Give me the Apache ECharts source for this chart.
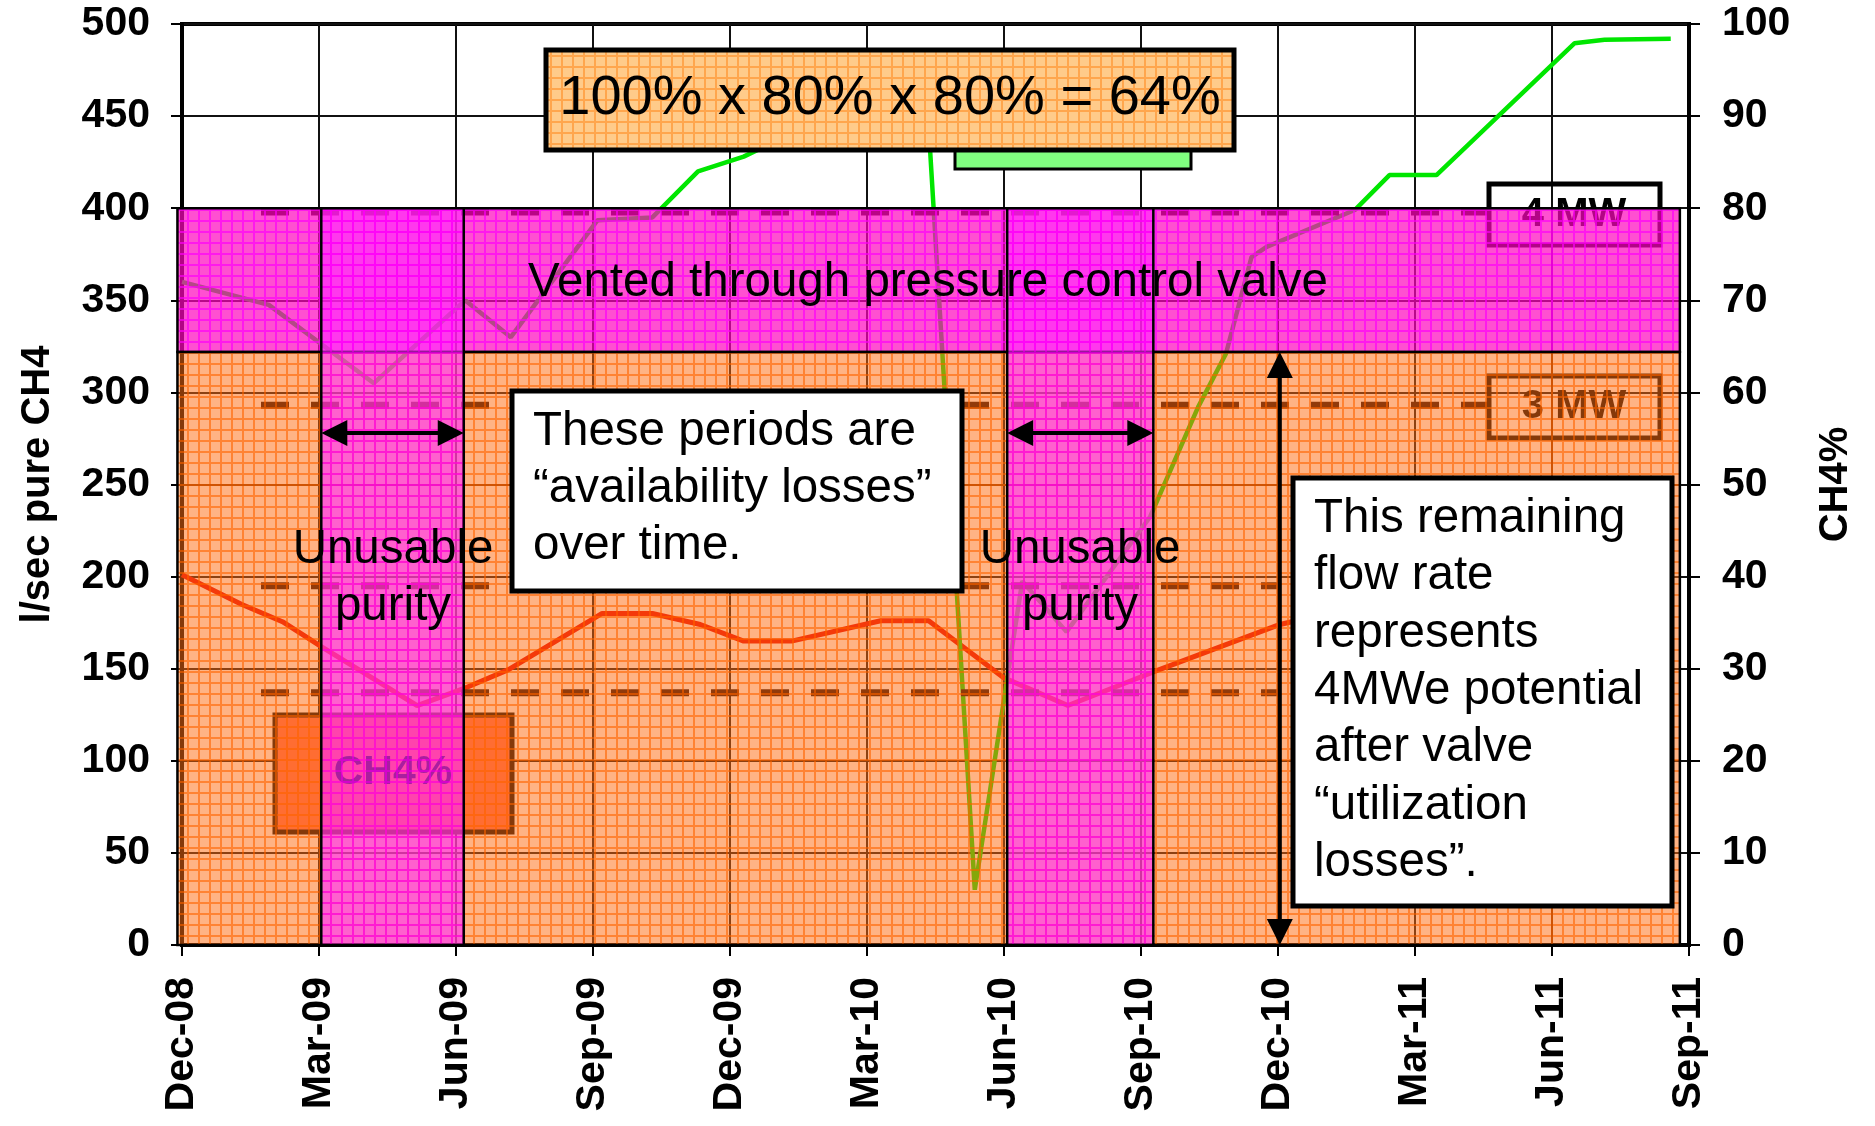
<!DOCTYPE html>
<html>
<head>
<meta charset="utf-8">
<title>CH4 flow and purity</title>
<script src="https://cdn.jsdelivr.net/npm/echarts@6/dist/echarts.min.js"></script>
<style>
    html, body { margin: 0; padding: 0; background: #fff; }
    #main { width: 1875px; height: 1126px; }
</style>
</head>
<body>
<div id="main"></div>
<script>
    // x is counted in months from Dec-08
    var xTickLabels = ['Dec-08', 'Mar-09', 'Jun-09', 'Sep-09', 'Dec-09', 'Mar-10', 'Jun-10', 'Sep-10', 'Dec-10', 'Mar-11', 'Jun-11', 'Sep-11'];

    // flow rate, l/sec pure CH4 (left axis)
    var flowMonth = [0, 1.3, 2.2, 3.05, 5.15, 6.15, 7.15, 9.2, 10.3, 11.35, 12.3, 13.35, 15.3, 16.35, 18.0, 19.4, 21.3, 24.0, 24.3];
    var flowValue = [201, 185, 175.5, 162, 130, 139, 149.5, 180, 180, 174, 165, 165, 176, 176, 145, 130, 148.5, 173.7, 175.5];

    // CH4 % (right axis)
    var ch4Month = [0, 1.9, 4.2, 6.2, 7.2, 9.1, 10.3, 11.3, 12.3, 13.3, 14.3, 15.3, 16.3, 17.36, 18.4, 19.37, 21.2, 22.25, 22.86, 23.42, 23.75, 25.68, 26.44, 27.47, 30.49, 31.15, 32.6];
    var ch4Value = [72, 69.5, 61, 70, 66, 78.7, 79, 84, 85.6, 88, 90, 92, 93, 6, 39.5, 34, 46.5, 58.4, 64.2, 74.7, 75.8, 79.8, 83.6, 83.6, 97.9, 98.3, 98.4];

    // generator levels (dashed), l/sec
    var mwLevel = [398, 293, 195, 137];
    var mwFrom = [1.73, 1.73, 1.73, 1.73];
    var mwTo = [28.6, 28.6, 24.0, 24.0];

    // shaded zones: vented, usable flow (layer 0); two unusable purity periods (layer 1)
    var bandX0 = [-0.1, -0.1, 3.05, 18.07];
    var bandX1 = [32.8, 32.8, 6.17, 21.27];
    var bandY0 = [322, 0, 0, 0];
    var bandY1 = [400, 322, 400, 400];
    var bandLayer = [0, 0, 1, 1];

    // double arrows (month, l/sec)
    var arrowX0 = [3.05, 18.07, 24.04];
    var arrowY0 = [278, 278, 322];
    var arrowX1 = [6.17, 21.27, 24.04];
    var arrowY1 = [278, 278, 0];

    var formulaText = '100% x 80% x 80% = 64%';
    var ventText = 'Vented through pressure control valve';
    var unusableText = ['Unusable', 'purity'];
    var noteA = ['These periods are', '\u201cavailability losses\u201d', 'over time.'];
    var noteB = ['This remaining', 'flow rate', 'represents', '4MWe potential', 'after valve', '\u201cutilization', 'losses\u201d.'];

    var FONT = '"Liberation Sans", Arial, sans-serif';

    var gridPattern = function (bg, line, cell, lw) {
        var c = document.createElement('canvas');
        c.width = cell;
        c.height = cell;
        var ctx = c.getContext('2d');
        ctx.fillStyle = bg;
        ctx.fillRect(lw, lw, cell - lw, cell - lw);
        ctx.fillStyle = line;
        ctx.fillRect(0, 0, cell, lw);
        ctx.fillRect(0, lw, lw, cell - lw);
        return {image: c, repeat: 'repeat'};
    };

    var bandFill = [
        gridPattern('rgba(255,5,190,0.7)', 'rgba(255,0,235,0.9)', 11, 2),
        gridPattern('rgba(255,110,20,0.52)', 'rgba(255,100,0,0.8)', 11, 2),
        gridPattern('rgba(255,40,255,0.6)', 'rgba(255,0,250,0.8)', 11, 2),
        gridPattern('rgba(255,40,255,0.6)', 'rgba(255,0,250,0.8)', 11, 2)
    ];
    var formulaFill = gridPattern('#ffcb8a', '#ffa64d', 11, 2);

    var pairs = function (xs, ys) {
        return xs.map(function (x, i) { return [x, ys[i]]; });
    };

    var renderBand = function (params, api) {
        var p0 = api.coord([api.value(0), api.value(3)]);
        var p1 = api.coord([api.value(1), api.value(2)]);
        var i = api.value(4);
        return {
            type: 'rect',
            z2: i,
            shape: {x: p0[0], y: p0[1], width: p1[0] - p0[0], height: p1[1] - p0[1]},
            style: {fill: bandFill[i], stroke: '#000', lineWidth: 2.5}
        };
    };

    var bandData = function (layer) {
        var d = [];
        for (var i = 0; i < bandX0.length; i++) {
            if (bandLayer[i] === layer) {
                d.push([bandX0[i], bandX1[i], bandY0[i], bandY1[i], i]);
            }
        }
        return d;
    };

    var renderArrow = function (params, api) {
        var a = api.coord([api.value(0), api.value(1)]);
        var b = api.coord([api.value(2), api.value(3)]);
        var dx = b[0] - a[0], dy = b[1] - a[1];
        var len = Math.sqrt(dx * dx + dy * dy);
        var ux = dx / len, uy = dy / len;
        var hl = 26, hw = 13;
        var head = function (tip, dir) {
            var bx = tip[0] - dir * ux * hl, by = tip[1] - dir * uy * hl;
            return {
                type: 'polygon',
                shape: {points: [tip, [bx - uy * hw, by + ux * hw], [bx + uy * hw, by - ux * hw]]},
                style: {fill: '#000'}
            };
        };
        return {
            type: 'group',
            children: [
                {
                    type: 'line',
                    shape: {x1: a[0] + ux * 10, y1: a[1] + uy * 10, x2: b[0] - ux * 10, y2: b[1] - uy * 10},
                    style: {stroke: '#000', lineWidth: 4}
                },
                head(b, 1),
                head(a, -1)
            ]
        };
    };

    var series = [
        {
            name: 'flow',
            type: 'line',
            z: 2,
            symbol: 'none',
            data: pairs(flowMonth, flowValue),
            lineStyle: {color: '#e80000', width: 5}
        },
        {
            name: 'CH4%',
            type: 'line',
            z: 2,
            yAxisIndex: 1,
            symbol: 'none',
            data: pairs(ch4Month, ch4Value),
            lineStyle: {color: '#00e600', width: 4.5}
        }
    ];

    for (var k = 0; k < mwLevel.length; k++) {
        series.push({
            type: 'line',
            z: 2,
            symbol: 'none',
            silent: true,
            data: [[mwFrom[k], mwLevel[k]], [mwTo[k], mwLevel[k]]],
            lineStyle: {color: '#1a0400', width: 7, type: [28, 22]}
        });
    }

    // shading layers, drawn over the lines
    [0, 1].forEach(function (layer) {
        series.push({
            type: 'custom',
            z: 5 + layer * 2,
            silent: true,
            clip: false,
            renderItem: renderBand,
            encode: {x: [0, 1], y: [2, 3]},
            data: bandData(layer)
        });
    });

    series.push({
        type: 'custom',
        z: 12,
        silent: true,
        clip: false,
        renderItem: renderArrow,
        encode: {x: [0, 2], y: [1, 3]},
        data: arrowX0.map(function (x0, i) { return [x0, arrowY0[i], arrowX1[i], arrowY1[i]]; })
    });

    var txt = function (x, y, text, size, opts) {
        opts = opts || {};
        return {
            type: 'text',
            z: opts.z || 15,
            x: x,
            y: y,
            style: {
                text: text,
                font: (opts.bold ? 'bold ' : '') + size + 'px ' + FONT,
                fill: opts.color || '#000',
                align: opts.align || 'center',
                verticalAlign: 'middle'
            }
        };
    };

    var graphics = [
        // boxes under the shading
        {type: 'rect', z: 3, shape: {x: 275, y: 715, width: 237, height: 117}, style: {fill: '#ff6d55', stroke: '#000', lineWidth: 5}},
        txt(393, 773, 'CH4%', 41, {bold: true, color: '#2a1010', z: 6}),
        {type: 'rect', z: 3, shape: {x: 1489, y: 184, width: 171, height: 61}, style: {fill: 'none', stroke: '#000', lineWidth: 5}},
        txt(1574, 215, '4 MW', 40, {bold: true, z: 3}),
        {type: 'rect', z: 3, shape: {x: 1489, y: 376, width: 171, height: 62}, style: {fill: 'none', stroke: '#000', lineWidth: 5}},
        txt(1574, 407, '3 MW', 40, {bold: true, z: 3}),

        // formula box
        {type: 'rect', z: 20, shape: {x: 955, y: 128, width: 236, height: 41}, style: {fill: '#80ff80', stroke: '#000', lineWidth: 3}},
        {type: 'rect', z: 21, shape: {x: 546, y: 50, width: 688, height: 100}, style: {fill: formulaFill, stroke: '#000', lineWidth: 5}},
        txt(890, 99, formulaText, 56, {z: 22}),

        txt(928, 283, ventText, 47.5),
        txt(393, 550, unusableText[0], 47.5),
        txt(393, 607, unusableText[1], 47.5),
        txt(1080, 550, unusableText[0], 47.5),
        txt(1080, 607, unusableText[1], 47.5),

        {type: 'rect', z: 15, shape: {x: 512, y: 391, width: 450, height: 200}, style: {fill: '#fff', stroke: '#000', lineWidth: 5}},
        {type: 'rect', z: 15, shape: {x: 1293, y: 478, width: 379, height: 428}, style: {fill: '#fff', stroke: '#000', lineWidth: 5}}
    ];
    noteA.forEach(function (line, i) {
        graphics.push(txt(533, 432 + i * 57, line, 47.5, {align: 'left', z: 16}));
    });
    noteB.forEach(function (line, i) {
        graphics.push(txt(1314, 519 + i * 57.3, line, 47.5, {align: 'left', z: 16}));
    });

    var axisFont = {fontFamily: FONT, fontSize: 41, fontWeight: 'bold', color: '#000'};
    var nameFont = {fontFamily: FONT, fontSize: 40, fontWeight: 'bold', color: '#000'};

    var option = {
        animation: false,
        backgroundColor: '#fff',
        grid: {
            left: 182, right: 186, top: 24, bottom: 181,
            containLabel: false,
            outerBoundsMode: 'none',
            show: true, backgroundColor: '#fff', borderColor: '#000', borderWidth: 4
        },
        xAxis: {
            type: 'value',
            min: 0,
            max: 33,
            interval: 3,
            axisLine: {lineStyle: {color: '#000', width: 4}},
            axisTick: {length: 11, lineStyle: {color: '#000', width: 2}},
            splitLine: {show: true, lineStyle: {color: '#111', width: 2}},
            axisLabel: Object.assign({}, axisFont, {
                rotate: 90,
                margin: 32,
                formatter: function (v) { return xTickLabels[Math.round(v / 3)]; }
            })
        },
        yAxis: [
            {
                type: 'value',
                position: 'left',
                min: 0,
                max: 500,
                interval: 50,
                name: 'l/sec pure CH4',
                nameLocation: 'middle',
                nameRotate: 90,
                nameGap: 124,
                nameTextStyle: nameFont,
                axisLine: {show: true, lineStyle: {color: '#000', width: 4}},
                axisTick: {show: true, length: 11, lineStyle: {color: '#000', width: 2}},
                splitLine: {show: true, lineStyle: {color: '#111', width: 2}},
                axisLabel: Object.assign({}, axisFont, {margin: 32})
            },
            {
                type: 'value',
                position: 'right',
                min: 0,
                max: 100,
                interval: 10,
                name: 'CH4%',
                nameLocation: 'middle',
                nameRotate: 90,
                nameGap: 127,
                nameTextStyle: nameFont,
                axisLine: {show: true, lineStyle: {color: '#000', width: 4}},
                axisTick: {show: true, length: 11, lineStyle: {color: '#000', width: 2}},
                splitLine: {show: false},
                axisLabel: Object.assign({}, axisFont, {margin: 33})
            }
        ],
        series: series,
        graphic: {elements: graphics}
    };

    var myChart = echarts.init(document.getElementById('main'));
    myChart.setOption(option);
</script>
</body>
</html>
